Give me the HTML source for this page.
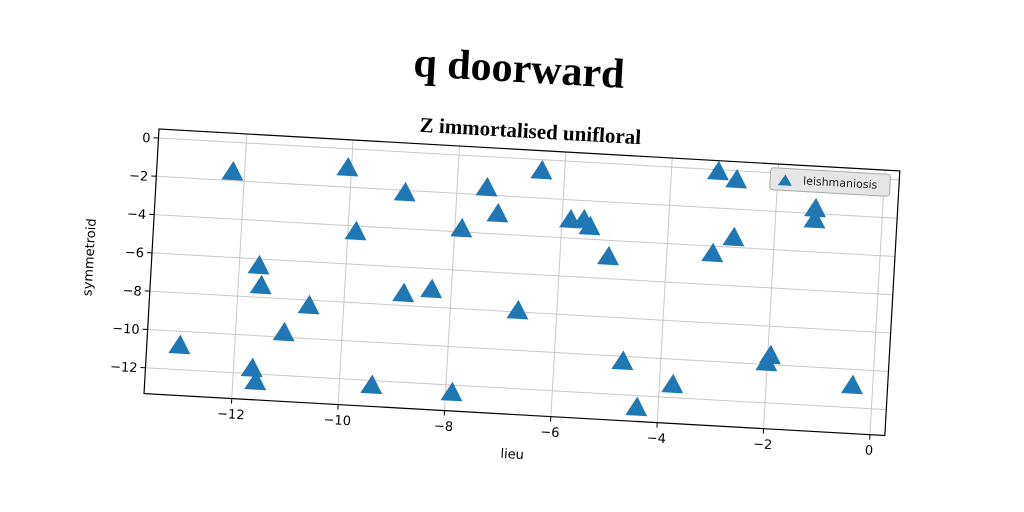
<!DOCTYPE html>
<html><head><meta charset="utf-8"><style>
html,body{margin:0;padding:0;background:#fff;}
svg{display:block;font-family:"DejaVu Sans","Liberation Sans",sans-serif;}
</style></head><body>
<svg id="chart" width="1024" height="512" viewBox="0 0 1024 512">
<text x="519" y="82" text-anchor="middle" transform="rotate(3.24 519 70)" font-family="'Liberation Serif',serif" font-weight="bold" font-size="42" fill="#000">q doorward</text>
<g id="plot" transform="rotate(3.24 159 129)">
<text x="530" y="117" text-anchor="middle" font-family="'Liberation Serif',serif" font-weight="bold" font-size="21">Z immortalised unifloral</text>
<g id="grid"></g>
<g id="marks"></g>
<rect x="159" y="129" width="742" height="265" fill="none" stroke="#000" stroke-width="1.2"/>
<g id="ticks"></g>
<text x="530" y="438" text-anchor="middle" font-size="13">lieu</text>
<text x="0" y="0" text-anchor="middle" font-size="13" transform="translate(101 261) rotate(-90)">symmetroid</text>
<g>
<rect x="772" y="133" width="120" height="22" rx="3" fill="#e6e6e6" stroke="#aaa"/>
<path d="M780 150 L787 139 L794 150 Z" fill="#1f77b4"/>
<text x="805" y="148" font-size="11" fill="#222">leishmaniosis</text>
</g>
</g>
</svg>
<script>
const xTicks=[-12,-10,-8,-6,-4,-2,0];
const yTicks=[0,-2,-4,-6,-8,-10,-12];
const xVals=[-12.22,-10.07,-8.97,-7.44,-6.43,-3.12,-2.77,-1.26,-1.26,-9.85,-7.87,-7.21,-5.84,-5.59,-5.47,-5.09,-3.14,-2.76,-11.63,-11.57,-10.65,-8.89,-8.37,-6.73,-11.09,-13.03,-11.65,-11.57,-9.39,-7.88,-4.71,-4.4,-3.75,-2.01,-1.95,-0.38];
const yVals=[-1.55,-1.0,-2.13,-1.63,-0.58,-0.11,-0.48,-1.75,-2.33,-4.3,-3.84,-2.95,-3.05,-3.01,-3.35,-4.86,-4.39,-3.5,-6.36,-7.39,-8.29,-7.38,-7.09,-7.94,-9.77,-10.75,-11.73,-12.4,-12.26,-12.4,-10.27,-12.63,-11.33,-9.91,-9.53,-10.85];
const X0=159,Y0=129,W=742,H=265,xmin=-13.65,xmax=0.28,ymin=-13.35,ymax=0.47;
const sx=v=>X0+(v-xmin)/(xmax-xmin)*W;
const sy=v=>Y0+(ymax-v)/(ymax-ymin)*H;
const NS='http://www.w3.org/2000/svg';
const grid=document.getElementById('grid'),ticks=document.getElementById('ticks'),marks=document.getElementById('marks');
function mk(tag,attrs,parent){const e=document.createElementNS(NS,tag);for(const k in attrs)e.setAttribute(k,attrs[k]);parent.appendChild(e);return e;}
xTicks.forEach(t=>{
  const x=sx(t);
  const g=mk('line',{x1:x,x2:x,y1:Y0,y2:Y0+H,stroke:'#c8c8c8','stroke-width':1},grid);
  
  
  const tk=mk('line',{x1:x,x2:x,y1:Y0+H,y2:Y0+H+5,stroke:'#000'},ticks);
  
  
  const lb=mk('text',{x:x,y:Y0+H+20,'text-anchor':'middle','font-size':13},ticks);
  lb.textContent=(t<0?'\u2212'+(-t):t);
  
  
});
yTicks.forEach(t=>{
  const y=sy(t);
  const g=mk('line',{x1:X0,x2:X0+W,y1:y,y2:y,stroke:'#c8c8c8','stroke-width':1},grid);
  
  
  const tk=mk('line',{x1:X0-5,x2:X0,y1:y,y2:y,stroke:'#000'},ticks);
  
  
  const lb=mk('text',{x:X0-8,y:y+5,'text-anchor':'end','font-size':13},ticks);
  lb.textContent=(t<0?'\u2212'+(-t):t);
  
  
});
xVals.forEach((v,i)=>{
  const x=sx(v),y=sy(yVals[i]);
  const p=mk('path',{d:`M${x-11} ${y+8} L${x} ${y-11} L${x+11} ${y+8} Z`,fill:'#1f77b4'},marks);
  
  
});
</script>
</body></html>
